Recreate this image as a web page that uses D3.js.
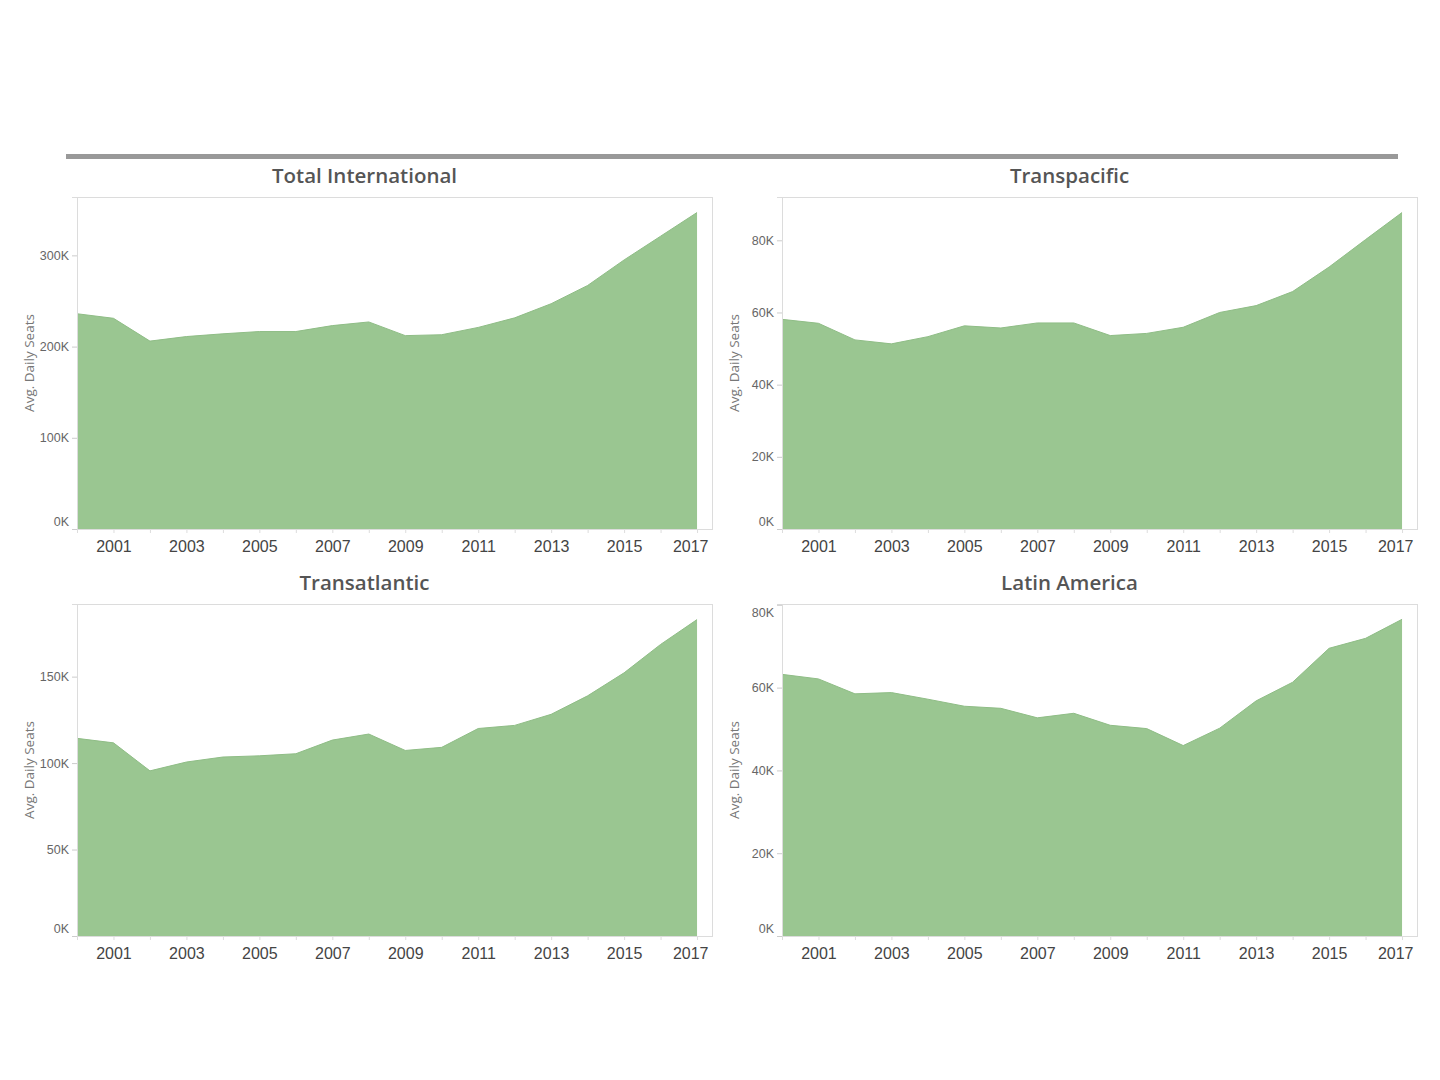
<!DOCTYPE html>
<html>
<head>
<meta charset="utf-8">
<script src="https://cdn.jsdelivr.net/npm/d3@7"></script>
<style>
  body { margin: 0; background: #fff; font-family: "Open Sans", "Noto Sans", sans-serif; }
  .panel-title { font-size: 20.5px; font-weight: 600; fill: #555; }
  .y-tick text { font-size: 12.5px; fill: #666; }
  .x-tick text { font-size: 16px; fill: #444; }
  .y-title { font-size: 13.5px; fill: #777; }
</style>
</head>
<body>
<div id="viz_container"></div>
<script>
// years on the x axis
const years = d3.range(2000, 2018);

// avg. daily seats per region
const totalInternational = [236000, 231000, 206000, 211000, 214000, 216500, 216500, 223000, 227000, 212000, 213000, 221000, 231500, 247000, 267000, 295000, 321000, 347000];
const transpacific = [58100, 57000, 52400, 51300, 53300, 56300, 55700, 57100, 57100, 53600, 54200, 55900, 60000, 61900, 65800, 72600, 80200, 87700];
const transatlantic = [114300, 111700, 95500, 100600, 103500, 104200, 105400, 113300, 116800, 107300, 109100, 120000, 121800, 128200, 138900, 152200, 168600, 183000];
const latinAmerica = [63200, 62100, 58500, 58800, 57200, 55500, 55000, 52700, 53800, 50900, 50100, 46000, 50200, 56800, 61300, 69500, 71900, 76500];

// panel titles
const titles = ["Total International", "Transpacific", "Transatlantic", "Latin America"];

// y axis ticks and top of each axis
const yTicks = [
  [0, 100000, 200000, 300000],
  [0, 20000, 40000, 60000, 80000],
  [0, 50000, 100000, 150000],
  [0, 20000, 40000, 60000, 80000]
];
const yMax = [364000, 92000, 192000, 80200];

// x tick labels (odd years)
const xLabels = [2001, 2003, 2005, 2007, 2009, 2011, 2013, 2015, 2017];

const series = [totalInternational, transpacific, transatlantic, latinAmerica];

const svg = d3.select("#viz_container")
  .append("svg")
    .attr("width", 1440)
    .attr("height", 1080);

// header rule
svg.append("rect")
  .attr("x", 66)
  .attr("y", 154)
  .attr("width", 1332)
  .attr("height", 5)
  .attr("fill", "#999");

const plotW = 635;
const plotH = 332;
const origins = [
  {x: 77, y: 197},
  {x: 782, y: 197},
  {x: 77, y: 604},
  {x: 782, y: 604}
];

const xScale = d3.scaleLinear()
  .domain([2000, 2017.41])
  .range([0, plotW]);

series.forEach((values, i) => {
  const o = origins[i];
  const g = svg.append("g")
    .attr("transform", `translate(${o.x}, ${o.y})`);

  const yScale = d3.scaleLinear()
    .domain([0, yMax[i]])
    .range([plotH, 0]);

  const data = years.map((yr, j) => ({year: yr, value: values[j]}));

  // title
  g.append("text")
    .attr("class", "panel-title")
    .attr("x", plotW / 2 - 30)
    .attr("y", -14)
    .attr("text-anchor", "middle")
    .text(titles[i]);

  // pane border
  g.append("rect")
    .attr("x", 0.5)
    .attr("y", 0.5)
    .attr("width", plotW)
    .attr("height", plotH)
    .attr("fill", "none")
    .attr("stroke", "#dcdcdc");

  // area
  const area = d3.area()
    .x(d => xScale(d.year))
    .y0(yScale(0))
    .y1(d => yScale(d.value));
  g.append("path")
    .datum(data)
    .attr("d", area)
    .attr("fill", "#9ac691");

  const line = d3.line()
    .x(d => xScale(d.year))
    .y(d => yScale(d.value));
  g.append("path")
    .datum(data)
    .attr("d", line)
    .attr("fill", "none")
    .attr("stroke", "#8fbd86")
    .attr("stroke-width", 1);

  // y axis
  const yAxis = g.append("g")
    .call(d3.axisLeft(yScale)
      .tickValues(yTicks[i])
      .tickSize(5)
      .tickPadding(3)
      .tickFormat(d => (d / 1000) + "K"));
  yAxis.select(".domain").attr("stroke", "#dcdcdc");
  yAxis.selectAll(".tick").attr("class", "tick y-tick");
  yAxis.selectAll(".tick line").attr("stroke", "#ccc");
  yAxis.selectAll(".tick text")
    .attr("font-family", null)
    .attr("font-size", null)
    .attr("fill", null)
    .attr("dy", d => {
      const y = yScale(d);
      if (y > plotH - 7) return "-0.3em";
      if (y < 7) return "0.95em";
      return "0.32em";
    });

  // x axis: minor ticks every year, labels on odd years
  const xAxis = g.append("g")
    .attr("transform", `translate(0, ${plotH})`)
    .call(d3.axisBottom(xScale)
      .tickValues(years)
      .tickSize(4)
      .tickPadding(8)
      .tickFormat(d => xLabels.includes(d) ? d : ""));
  xAxis.select(".domain").remove();
  xAxis.selectAll(".tick").attr("class", "tick x-tick");
  xAxis.selectAll(".tick line").attr("stroke", "#ddd");
  xAxis.selectAll(".tick text")
    .attr("font-family", null)
    .attr("font-size", null)
    .attr("fill", null)
    .each(function(d) {
      // keep the last label inside the pane, like the original
      const w = this.getComputedTextLength();
      const over = xScale(d) + w / 2 - (plotW - 4);
      if (over > 0) d3.select(this).attr("x", -over);
    });

  // y axis title
  g.append("text")
    .attr("class", "y-title")
    .attr("transform", `translate(-48, ${plotH / 2}) rotate(-90)`)
    .attr("text-anchor", "middle")
    .attr("dy", "0.35em")
    .text("Avg. Daily Seats");
});
</script>
</body>
</html>
